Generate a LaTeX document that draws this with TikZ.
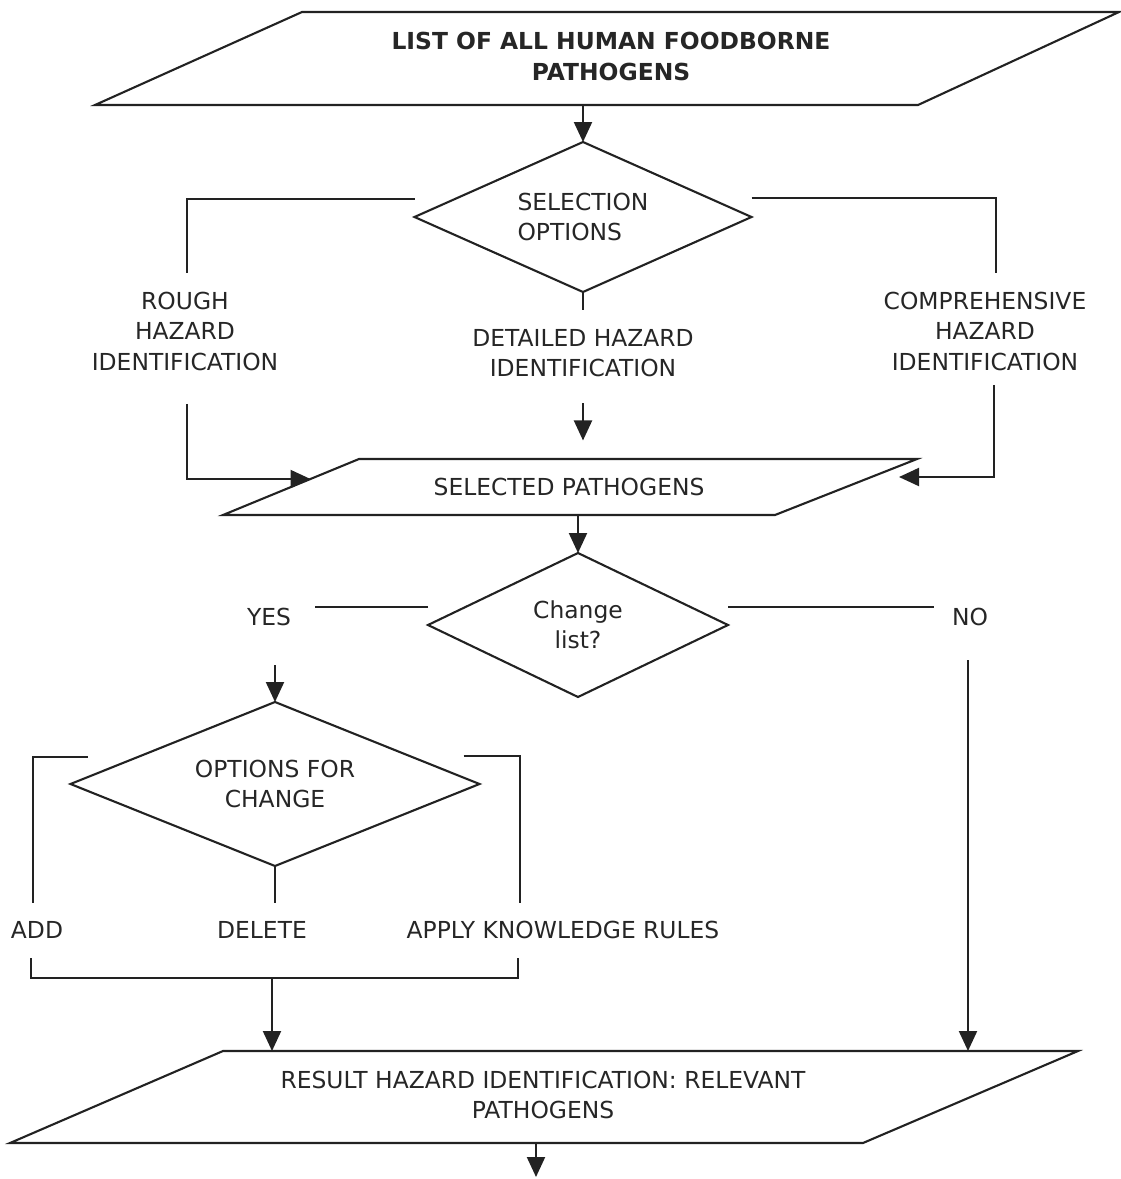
\documentclass[tikz,border=0pt]{standalone}
\usepackage{fontspec}
\setmainfont{DejaVu Sans}
\usetikzlibrary{shapes.geometric,arrows.meta,calc}
\definecolor{ink}{HTML}{222222}
\definecolor{txt}{HTML}{262626}
\begin{document}
\begin{tikzpicture}[x=1pt,y=-1pt,
  line/.style={draw=ink, line width=2.1pt, line join=miter},
  arr/.style={line, -{Triangle[length=20pt,width=18pt]}},
  lbl/.style={text=txt, font=\fontsize{23.4}{30.5}\selectfont, inner sep=0pt, outer sep=0pt, align=center},
  dec/.style={shape=diamond, draw=ink, line width=2.1pt, inner sep=0pt, outer sep=0pt,
              text=txt, font=\fontsize{23.4}{30.5}\selectfont, align=center}
]
\useasboundingbox (0,0) rectangle (1121,1179);

% ---------- top input ----------
\draw[line] (95,105) -- (918,105) -- (1119,12) -- (302,12) -- cycle;
\node[lbl, font=\fontsize{23.4}{31}\selectfont\bfseries] (list) at (611,56) {LIST OF ALL HUMAN FOODBORNE\\PATHOGENS};
\coordinate (listout) at (583,105);

% ---------- selection options ----------
\node[dec, minimum width=337pt, minimum height=150pt, aspect=2.25, align=left] (d1) at (583,217) {SELECTION\\OPTIONS};
\draw[arr] (listout) -- (d1.north);

\node[lbl] (rough)  at (185,331) {ROUGH\\HAZARD\\IDENTIFICATION};
\node[lbl] (detail) at (583,353) {DETAILED HAZARD\\IDENTIFICATION};
\node[lbl] (comp)   at (985,331) {COMPREHENSIVE\\HAZARD\\IDENTIFICATION};

% selected pathogens
\draw[line] (223,515) -- (775,515) -- (917,459) -- (359,459) -- cycle;
\node[lbl] (sel) at (569,487) {SELECTED PATHOGENS};
\coordinate (selL) at (310.5,479);
\coordinate (selR) at (899,477);
\coordinate (selout) at (578,515);

\draw[line] ($(d1.west)+(0,-18)$) -| ($(rough.north)+(2,-18.5)$);
\draw[arr] ($(rough.south)+(2,33.5)$) |- (selL);
\draw[line] ($(d1.east)+(0,-19)$) -| ($(comp.north)+(11,-18.5)$);
\draw[arr] ($(comp.south)+(9,14.5)$) |- (selR);
\draw[line] (d1.south) -- ++(0,18);
\draw[arr] ($(detail.south)+(0,26.5)$) -- ($(detail.south)+(0,63.5)$);

% ---------- change list ----------
\node[dec, minimum width=300pt, minimum height=144pt, aspect=2.08] (d2) at (578,625) {Change\\list?};
\draw[arr] (selout) -- (d2.north);

\node[lbl] (yes) at (269,617) {YES};
\node[lbl] (no)  at (970,617) {NO};
\coordinate (yesl) at (315,607);
\coordinate (nol) at (934,607);
\draw[line] ($(d2.west)+(0,-18)$) -- (yesl);
\draw[line] ($(d2.east)+(0,-18)$) -- (nol);

% ---------- options for change ----------
\node[dec, minimum width=409pt, minimum height=164pt, aspect=2.49] (d3) at (275,784) {OPTIONS FOR\\CHANGE};
\coordinate (yesdown) at (275,665);
\draw[arr] (yesdown) -- (d3.north);

\node[lbl] (add)   at (37,930)  {ADD};
\node[lbl] (del)   at (262,930) {DELETE};
\node[lbl] (apply) at (563,930) {APPLY KNOWLEDGE RULES};

\coordinate (addtop) at (33,903);
\coordinate (applytop) at (520,903);
\draw[line] ($(d3.west)+(17,-27)$) -| (addtop);
\draw[line] ($(d3.east)+(-16,-28)$) -| (applytop);
\draw[line] (d3.south) -- ++(0,37);

\coordinate (addbot) at (31,958);
\coordinate (applybot) at (518,958);
\coordinate (join) at (272,978);
\draw[line] (addbot) |- (join) -| (applybot);

% ---------- result ----------
\draw[line] (10,1143) -- (863,1143) -- (1078,1051) -- (223,1051) -- cycle;
\node[lbl] (res) at (543,1095) {RESULT HAZARD IDENTIFICATION: RELEVANT\\PATHOGENS};
\coordinate (resyes) at (272,1051);
\coordinate (resno) at (968,1051);
\coordinate (notop) at (968,660);
\coordinate (resout) at (536,1143);
\coordinate (end) at (536,1177);

\draw[arr] (join) -- (resyes);
\draw[arr] (notop) -- (resno);
\draw[arr] (resout) -- (end);
\end{tikzpicture}
\end{document}
